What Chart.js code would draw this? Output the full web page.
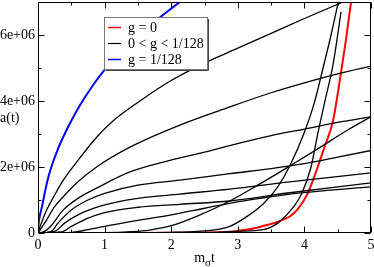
<!DOCTYPE html>
<html><head><meta charset="utf-8">
<script src="https://cdn.jsdelivr.net/npm/chart.js@4/dist/chart.umd.min.js"></script>
<style>html,body{margin:0;padding:0;background:#fff;overflow:hidden}</style>
</head><body><canvas id="c" width="374" height="267"></canvas>
<script>
// ---- data (t in units of 1/m_sigma, a(t)) ----
const tBlue = [0, 0.01, 0.03, 0.06, 0.1, 0.15, 0.2, 0.3, 0.4, 0.5, 0.63, 0.8, 1.0, 1.25, 1.5, 1.75, 2.0, 2.25];
const aBlue = [0, 0.3e6, 0.55e6, 0.8e6, 1.2e6, 1.65e6, 2.0e6, 2.55e6, 3.0e6, 3.4e6, 3.87e6, 4.4e6, 4.94e6, 5.47e6, 5.95e6, 6.4e6, 6.8e6, 7.18e6];

const tRed = [0, 1.5, 2.0, 2.5, 2.84, 3.0, 3.2, 3.44, 3.6, 3.78, 3.9, 4.05, 4.2, 4.3, 4.43, 4.53, 4.62, 4.7];
const aRed = [0, 0, 0.005e6, 0.015e6, 0.03e6, 0.07e6, 0.12e6, 0.24e6, 0.34e6, 0.5e6, 0.72e6, 1.2e6, 2.0e6, 2.6e6, 3.4e6, 4.6e6, 5.8e6, 7.0e6];

const tBlackA = [0, 0.05, 0.13, 0.25, 0.38, 0.6, 0.88, 1.1, 1.53, 1.98, 2.5, 3.0, 3.5, 4.0, 4.58, 5];
const aBlackA = [0, 0.3e6, 0.7e6, 1.15e6, 1.6e6, 2.2e6, 2.9e6, 3.35e6, 4.0e6, 4.6e6, 5.15e6, 5.6e6, 6.05e6, 6.5e6, 7.0e6, 7.35e6];
const tBlackB = [0, 0.05, 0.13, 0.25, 0.38, 0.6, 0.88, 1.38, 2.13, 2.88, 3.5, 4.0, 4.5, 5];
const aBlackB = [0, 0.15e6, 0.4e6, 0.8e6, 1.1e6, 1.55e6, 2.0e6, 2.6e6, 3.27e6, 3.82e6, 4.25e6, 4.55e6, 4.82e6, 5.06e6];
const tBlackC = [0, 0.1, 0.18, 0.38, 0.6, 0.88, 1.38, 1.98, 2.5, 2.88, 3.5, 4.0, 4.5, 5];
const aBlackC = [0, 0.05e6, 0.18e6, 0.7e6, 1.05e6, 1.36e6, 1.85e6, 2.2e6, 2.45e6, 2.65e6, 2.95e6, 3.15e6, 3.35e6, 3.52e6];
const tBlackD = [0, 0.2, 0.3, 0.5, 0.75, 1.0, 1.5, 2.13, 2.88, 3.5, 4.0, 4.5, 5];
const aBlackD = [0, 0.05e6, 0.3e6, 0.7e6, 1.0e6, 1.2e6, 1.45e6, 1.6e6, 1.8e6, 1.95e6, 2.1e6, 2.3e6, 2.5e6];
const tBlackE = [0, 0.25, 0.4, 0.6, 1.0, 1.5, 2.13, 2.88, 3.78, 5];
const aBlackE = [0, 0.05e6, 0.3e6, 0.55e6, 0.85e6, 1.05e6, 1.18e6, 1.33e6, 1.55e6, 1.82e6];
const tBlackF = [0, 0.35, 0.5, 0.75, 1.0, 1.5, 2.13, 2.88, 3.78, 5];
const aBlackF = [0, 0.03e6, 0.2e6, 0.45e6, 0.62e6, 0.78e6, 0.87e6, 0.97e6, 1.22e6, 1.52e6];
const tBlackG = [0, 0.5, 0.75, 1.0, 1.5, 2.0, 2.5, 2.88, 3.3, 3.78, 4.4, 5];
const aBlackG = [0, 0.02e6, 0.1e6, 0.2e6, 0.38e6, 0.55e6, 0.75e6, 0.9e6, 1.04e6, 1.18e6, 1.3e6, 1.4e6];
const tBlackH = [0, 1.0, 1.4, 1.68, 2.0, 2.4, 2.88, 3.3, 3.78, 4.2, 4.65, 5];
const aBlackH = [0, 0.01e6, 0.04e6, 0.09e6, 0.22e6, 0.52e6, 0.97e6, 1.45e6, 2.03e6, 2.55e6, 3.12e6, 3.52e6];
const tBlackI = [0, 1.5, 2.0, 2.4, 2.7, 2.88, 3.1, 3.38, 3.6, 3.78, 4.0, 4.15, 4.28, 4.4, 4.52];
const aBlackI = [0, 0.005e6, 0.02e6, 0.05e6, 0.11e6, 0.2e6, 0.45e6, 0.88e6, 1.4e6, 2.03e6, 3.05e6, 3.95e6, 5.0e6, 6.0e6, 7.1e6];
const tBlackJ = [0, 2.0, 2.6, 3.0, 3.38, 3.6, 3.8, 3.96, 4.1, 4.2, 4.32, 4.43, 4.55];
const aBlackJ = [0, 0.005e6, 0.02e6, 0.05e6, 0.1e6, 0.3e6, 0.7e6, 1.2e6, 2.0e6, 3.0e6, 4.1e6, 5.1e6, 6.7e6];

const legendLabels = ['g = 0', '0 < g < 1/128', 'g = 1/128'];
const xMajorTicks = [0, 1, 2, 3, 4, 5];
const xMinorTicks = [0.5, 1.5, 2.5, 3.5, 4.5];
const yMajorTicks = [0, 2e6, 4e6, 6e6];
const yMinorTicks = [1e6, 3e6, 5e6, 7e6];
const yTickLabels = ['0', '2e+06', '4e+06', '6e+06'];

// ---- build ----
const FONT = '"Liberation Serif", "Times New Roman", serif';
const pts = (t, a) => t.map((v, i) => ({x: v, y: a[i]}));
const blacks = [
  [tBlackA, aBlackA], [tBlackB, aBlackB], [tBlackC, aBlackC], [tBlackD, aBlackD],
  [tBlackE, aBlackE], [tBlackF, aBlackF], [tBlackG, aBlackG], [tBlackH, aBlackH],
  [tBlackI, aBlackI], [tBlackJ, aBlackJ]
];
const common = {pointRadius: 0, fill: false, cubicInterpolationMode: 'monotone'};
const datasets = [];
blacks.forEach((b) => datasets.push(Object.assign({label: legendLabels[1], data: pts(b[0], b[1]), borderColor: '#000', borderWidth: 1.3}, common)));
datasets.push(Object.assign({label: legendLabels[2], data: pts(tBlue, aBlue), borderColor: '#0000ff', borderWidth: 2}, common));
datasets.push(Object.assign({label: legendLabels[0], data: pts(tRed, aRed), borderColor: '#ff0000', borderWidth: 2}, common));

const decor = {
  id: 'decor',
  afterDatasetsDraw(chart) {
    const {ctx, chartArea: a, scales: {x, y}} = chart;
    ctx.save();
    ctx.strokeStyle = '#000';
    ctx.lineWidth = 1;
    const L = Math.round(a.left) + 0.5, R = Math.round(a.right) - 0.5;
    const T = Math.round(a.top) + 0.5, B = Math.round(a.bottom) - 0.5;
    ctx.strokeRect(L, T, R - L, B - T);
    ctx.beginPath();
    const xt = (v, len) => { const p = Math.round(x.getPixelForValue(v)) + 0.5; ctx.moveTo(p, B); ctx.lineTo(p, B - len); ctx.moveTo(p, T); ctx.lineTo(p, T + len); };
    const yt = (v, len) => { const p = Math.round(y.getPixelForValue(v)) + 0.5; ctx.moveTo(L, p); ctx.lineTo(L + len, p); ctx.moveTo(R, p); ctx.lineTo(R - len, p); };
    xMajorTicks.forEach(v => xt(v, 6));
    xMinorTicks.forEach(v => xt(v, 3));
    yMajorTicks.forEach(v => yt(v, 6));
    yMinorTicks.forEach(v => yt(v, 3));
    ctx.stroke();
    ctx.restore();
  },
  afterDraw(chart) {
    const {ctx, chartArea: a} = chart;
    ctx.save();
    ctx.fillStyle = '#000';
    ctx.font = '14px ' + FONT;
    ctx.textBaseline = 'alphabetic';
    ctx.textAlign = 'left';
    // y title (horizontal)
    ctx.fillText('a(t)', 0, 122);
    // x title m_sigma t
    const cx = (a.left + a.right) / 2;
    ctx.font = '14px ' + FONT;
    const wm = ctx.measureText('m').width, wt = ctx.measureText('t').width;
    ctx.font = '11px ' + FONT;
    const ws = ctx.measureText('σ').width;
    let x0 = cx - (wm + ws + wt) / 2;
    ctx.font = '14px ' + FONT;
    ctx.fillText('m', x0, 262);
    ctx.font = '11px ' + FONT;
    ctx.fillText('σ', x0 + wm, 266);
    ctx.font = '14px ' + FONT;
    ctx.fillText('t', x0 + wm + ws, 262);
    // legend
    const bx = 104, by = 17, bw = 103, bh = 52;
    ctx.fillStyle = '#fff';
    ctx.fillRect(bx, by, bw, bh);
    ctx.strokeStyle = '#777';
    ctx.lineWidth = 1;
    ctx.strokeRect(bx + 0.5, by + 0.5, bw, bh);
    ctx.strokeStyle = '#444';
    ctx.beginPath();
    ctx.moveTo(bx + bw + 1.5, by + 2); ctx.lineTo(bx + bw + 1.5, by + bh + 1.5); ctx.lineTo(bx + 2, by + bh + 1.5);
    ctx.stroke();
    const rows = [[legendLabels[0], '#ff0000', 1.5], [legendLabels[1], '#000', 1.2], [legendLabels[2], '#0000ff', 1.5]];
    rows.forEach((r, i) => {
      const yy = by + 10.5 + i * 16;
      ctx.strokeStyle = r[1]; ctx.lineWidth = r[2];
      ctx.beginPath(); ctx.moveTo(bx + 4, yy); ctx.lineTo(bx + 17, yy); ctx.stroke();
      ctx.fillStyle = '#000';
      ctx.font = '14px ' + FONT;
      ctx.textBaseline = 'middle';
      ctx.fillText(r[0], bx + 24, yy + 1);
    });
    ctx.restore();
  }
};

new Chart(document.getElementById('c'), {
  type: 'line',
  data: {datasets},
  options: {
    responsive: false,
    animation: false,
    devicePixelRatio: 1,
    layout: {padding: {left: 0, right: 3, top: 2, bottom: 0}},
    plugins: {legend: {display: false}, tooltip: {enabled: false}},
    scales: {
      x: {
        type: 'linear', min: 0, max: 5,
        grid: {display: false, drawTicks: false},
        border: {display: false},
        ticks: {padding: 4, color: '#000', font: {family: FONT, size: 14}, maxRotation: 0, autoSkip: false},
        afterBuildTicks(s) { s.ticks = xMajorTicks.map(v => ({value: v})); },
        afterFit(s) { s.height = 34; s.paddingLeft = 0; s.paddingRight = 0; }
      },
      y: {
        type: 'linear', min: 0, max: 7e6,
        grid: {display: false, drawTicks: false},
        border: {display: false},
        ticks: {padding: 3, color: '#000', autoSkip: false, font: {family: FONT, size: 14},
          callback: (v) => yTickLabels[yMajorTicks.indexOf(v)]},
        afterBuildTicks(s) { s.ticks = yMajorTicks.map(v => ({value: v})); },
        afterFit(s) { s.width = 38; s.paddingTop = 0; s.paddingBottom = 0; }
      }
    }
  },
  plugins: [decor]
});
</script></body></html>
